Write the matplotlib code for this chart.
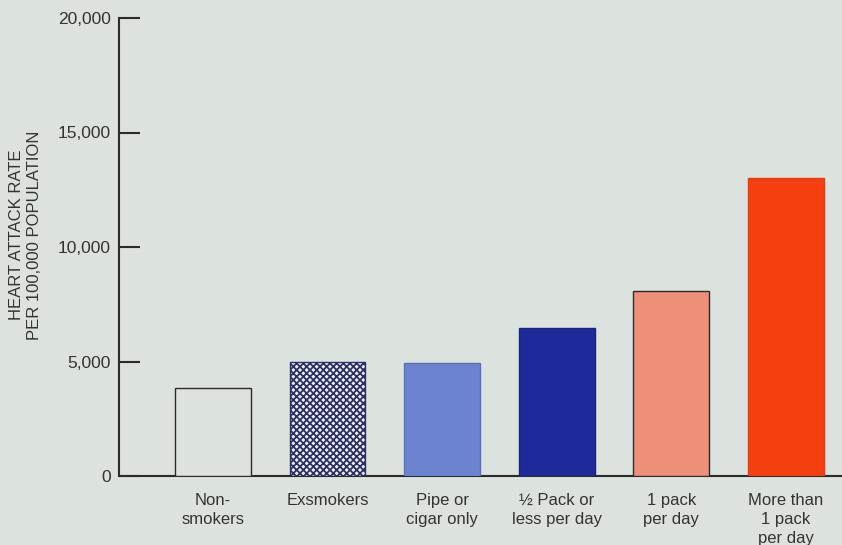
import matplotlib.pyplot as plt
import numpy as np

# values (rate per 100,000)
categories = ['Non-\nsmokers', 'Exsmokers', 'Pipe or\ncigar only',
              '\u00bd Pack or\nless per day', '1 pack\nper day', 'More than\n1 pack\nper day']
rates = [3850, 5000, 4950, 6450, 8100, 13000]
y_ticks = [0, 5000, 10000, 15000, 20000]
y_tick_labels = ['0', '5,000', '10,000', '15,000', '20,000']

bg = '#dce3df'
ink = '#2b2b2b'
fills = [bg, '#eef0f4', '#6c84d0', '#1f2a9a', '#f08f78', '#f4400f']

plt.rcParams['font.family'] = ['Liberation Sans', 'DejaVu Sans']
plt.rcParams['hatch.linewidth'] = 1.3

fig = plt.figure(figsize=(8.42, 5.45), dpi=100)
fig.patch.set_facecolor(bg)
ax = fig.add_axes([119 / 842, 1 - 476 / 545, 1 - 119 / 842, 458 / 545])
ax.set_facecolor(bg)

x = np.arange(len(categories))
bars = ax.bar(x, rates, width=0.66, color=fills, edgecolor=ink, linewidth=1.0, zorder=3)
bars[1].set_hatch('xxxxx')
bars[1].set_edgecolor('#2a3166')
bars[2].set_edgecolor('#5a6fb8')
bars[3].set_edgecolor('#1a2380')
bars[5].set_edgecolor('#e83a0c')

ax.set_xlim(-0.82, 5.49)
ax.set_ylim(0, 20000)
ax.set_yticks(y_ticks)
ax.set_yticklabels(y_tick_labels)
ax.set_xticks(x)
ax.set_xticklabels(categories, linespacing=1.35)

for side in ['top', 'right']:
    ax.spines[side].set_visible(False)
for side in ['left', 'bottom']:
    ax.spines[side].set_color(ink)
    ax.spines[side].set_linewidth(1.5)

ax.tick_params(axis='y', direction='in', length=15, width=1.5, color=ink,
               labelsize=12.5, labelcolor='#333333', pad=6)
ax.tick_params(axis='x', length=0, labelsize=12, labelcolor='#333333', pad=12)

fig.text(26 / 842, 1 - 235 / 545, 'HEART ATTACK RATE\nPER 100,000 POPULATION',
         rotation=90, ha='center', va='center', fontsize=12, color='#333333',
         linespacing=1.25)

fig.savefig('out.png', dpi=100, facecolor=bg)
